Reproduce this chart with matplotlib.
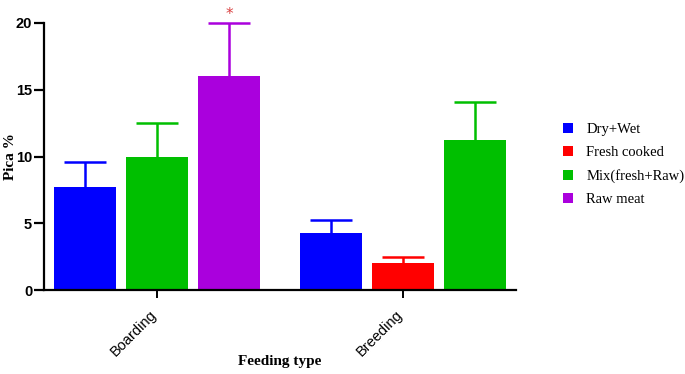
import matplotlib
matplotlib.use("Agg")
import matplotlib.pyplot as plt
from matplotlib.patches import Patch

groups = ["Boarding", "Breeding"]
series = ["Dry+Wet", "Fresh cooked", "Mix(fresh+Raw)", "Raw meat"]
colors = ["#0000ff", "#ff0000", "#00bf00", "#aa00dd"]

# per group: (series index, mean, upper error)
boarding_series = [0, 2, 3]
boarding_values = [7.7, 10.0, 16.0]
boarding_errors = [1.9, 2.5, 4.0]
breeding_series = [0, 1, 2]
breeding_values = [4.25, 2.0, 11.2]
breeding_errors = [1.0, 0.5, 2.85]

fig = plt.figure(figsize=(6.85, 3.74), dpi=100)
ax = fig.add_axes([44/685, 1-290/374, (516-44)/685, (290-23)/374])

width = 0.861
group_centers = [1.0, 4.417]
data = [(boarding_series, boarding_values, boarding_errors),
        (breeding_series, breeding_values, breeding_errors)]
for gc, (sidx, vals, errs) in zip(group_centers, data):
    for k, (s, v, e) in enumerate(zip(sidx, vals, errs)):
        x = gc + (k - 1)
        ax.bar(x, v, width=width, color=colors[s], edgecolor="none", zorder=2)
        _, caps, _ = ax.errorbar(x, v, yerr=[[0], [e]], fmt="none",
                                 ecolor=colors[s], elinewidth=1.8, capsize=15,
                                 capthick=1.8, zorder=1, clip_on=False)
        caps[0].set_visible(False)

# significance marker
ax.text(group_centers[0] + 1, 20.1, "*", color="#d94040", ha="center",
        va="bottom", fontsize=11, family="DejaVu Sans")

ax.set_xlim(-0.569, 5.986)
ax.set_ylim(0, 20)
ax.set_yticks([0, 5, 10, 15, 20])
ax.set_xticks(group_centers)
ax.set_xticklabels(groups, rotation=45, ha="right", va="baseline",
                   rotation_mode="anchor", family="Liberation Sans",
                   fontsize=10.5)
for lab in ax.get_yticklabels():
    lab.set_family("Liberation Sans")
    lab.set_fontweight("bold")
    lab.set_fontsize(10.5)

for sp in ["top", "right"]:
    ax.spines[sp].set_visible(False)
for sp in ["left", "bottom"]:
    ax.spines[sp].set_linewidth(1.6)
ax.tick_params(axis="y", length=7, width=1.6, pad=1.5)
ax.tick_params(axis="x", length=6, width=1.4, pad=12)

ax.set_ylabel("Pica %", family="Liberation Serif", fontweight="bold",
              fontsize=11)
ax.yaxis.set_label_coords(-(44 - 17) / 472, 0.5)
ax.set_xlabel("Feeding type", family="Liberation Serif", fontweight="bold",
              fontsize=11)
ax.xaxis.set_label_coords((280 - 44) / 472, -(355 - 290) / 267)

handles = [Patch(facecolor=c, edgecolor="none") for c in colors]
fig.legend(handles, series, loc="upper left", bbox_to_anchor=(550/685, 1-110/374),
           frameon=False, handlelength=0.7, handleheight=0.7, handletextpad=0.9,
           labelspacing=0.68, prop={"family": "Liberation Serif", "size": 10.5})

fig.savefig("out.png", dpi=100)
